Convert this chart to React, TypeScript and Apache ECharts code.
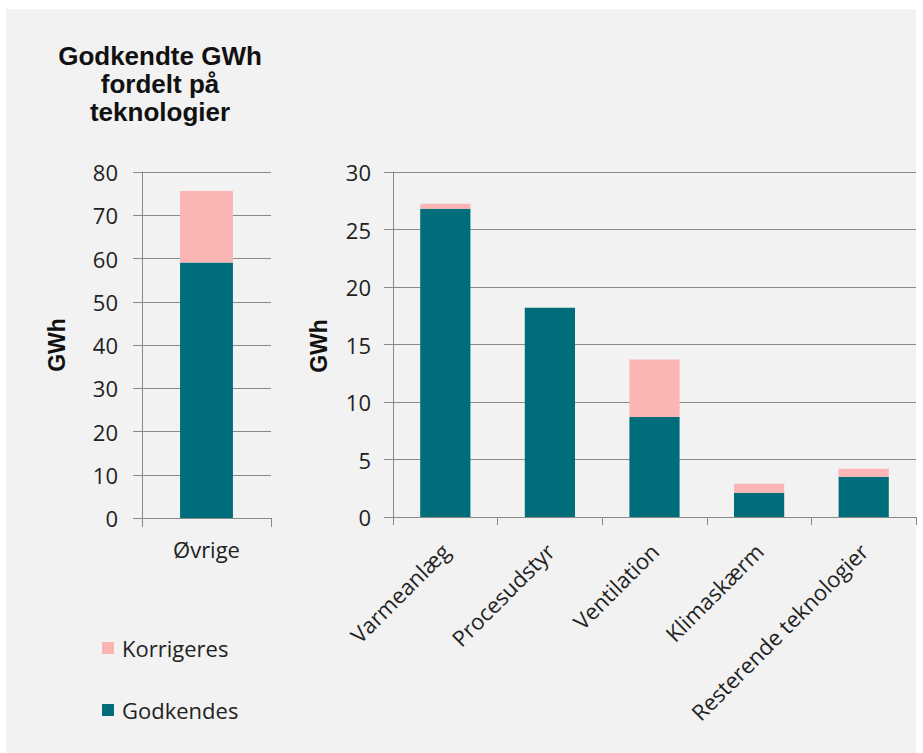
import React, { useEffect, useRef } from "react";
import * as echarts from "echarts";

const leftCategories = ["Øvrige"];
const leftGodkendes = [59.1];
const leftKorrigeres = [16.5];

const rightCategories = ["Varmeanlæg", "Procesudstyr", "Ventilation", "Klimaskærm", "Resterende teknologier"];
const rightGodkendes = [26.8, 18.2, 8.7, 2.1, 3.5];
const rightKorrigeres = [0.45, 0, 5.0, 0.8, 0.7];

const leftAxis = { min: 0, max: 80, interval: 10 };
const rightAxis = { min: 0, max: 30, interval: 5 };

const titleText = "Godkendte GWh\nfordelt på\nteknologier";
const axisName = "GWh";
const legendNames = ["Korrigeres", "Godkendes"];

const TEAL = "#006e7a";
const PINK = "#fbb5b5";
const LINE = "#8a8a8a";
const TEXT = "#222222";
const FONT = "'Open Sans', sans-serif";
const BOLD = "'Liberation Sans', Arial, sans-serif";

export default function App() {
  const ref = useRef<HTMLDivElement>(null);
  useEffect(() => {
    if (!ref.current) return;
    const chart = echarts.init(ref.current, undefined, { renderer: "svg" });
    const valueAxisCommon = (gridIndex: number, ax: any, margin: number) => ({
      type: "value",
      gridIndex,
      min: ax.min,
      max: ax.max,
      interval: ax.interval,
      axisLine: { show: true, lineStyle: { color: LINE, width: 1 } },
      axisTick: { show: true, length: 9, lineStyle: { color: LINE } },
      splitLine: { show: true, lineStyle: { color: LINE, width: 1 } },
      axisLabel: { color: TEXT, fontFamily: FONT, fontSize: 22, margin },
    });
    chart.setOption({
      animation: false,
      backgroundColor: "transparent",
      textStyle: { fontFamily: FONT },
      grid: [
        { left: 142, top: 172, width: 129, height: 346 },
        { left: 393, top: 172, width: 523, height: 345 },
      ],
      xAxis: [
        {
          type: "category",
          gridIndex: 0,
          data: leftCategories,
          axisLine: { show: true, lineStyle: { color: LINE } },
          axisTick: { show: true, length: 9, lineStyle: { color: LINE } },
          axisLabel: { color: TEXT, fontFamily: FONT, fontSize: 22, margin: 20 },
        },
        {
          type: "category",
          gridIndex: 1,
          data: rightCategories,
          axisLine: { show: true, lineStyle: { color: LINE } },
          axisTick: { show: true, length: 8, lineStyle: { color: LINE } },
          axisLabel: { color: TEXT, fontFamily: FONT, fontSize: 22, margin: 30, rotate: 45, interval: 0 },
        },
      ],
      yAxis: [valueAxisCommon(0, leftAxis, 24), valueAxisCommon(1, rightAxis, 22)],
      legend: {
        data: legendNames,
        orient: "vertical",
        left: 97,
        top: 632,
        itemWidth: 12,
        itemHeight: 12,
        itemGap: 40,
        icon: "rect",
        selectedMode: false,
        textStyle: { color: TEXT, fontFamily: FONT, fontSize: 22, padding: [0, 0, 0, 3] },
      },
      graphic: [
        {
          type: "text",
          x: 160,
          y: 42,
          style: {
            text: titleText,
            font: `bold 26px ${BOLD}`,
            fill: "#111",
            textAlign: "center",
            lineHeight: 28,
          },
        },
        {
          type: "text",
          x: 57,
          y: 345,
          rotation: Math.PI / 2,
          style: {
            text: axisName,
            font: `bold 23px ${BOLD}`,
            fill: "#111",
            textAlign: "center",
            textVerticalAlign: "middle",
          },
        },
        {
          type: "text",
          x: 319,
          y: 346,
          rotation: Math.PI / 2,
          style: {
            text: axisName,
            font: `bold 23px ${BOLD}`,
            fill: "#111",
            textAlign: "center",
            textVerticalAlign: "middle",
          },
        },
      ],
      series: [
        {
          name: "Godkendes",
          type: "bar",
          xAxisIndex: 0,
          yAxisIndex: 0,
          stack: "l",
          barWidth: "41%",
          itemStyle: { color: TEAL },
          data: leftGodkendes,
        },
        {
          name: "Korrigeres",
          type: "bar",
          xAxisIndex: 0,
          yAxisIndex: 0,
          stack: "l",
          barWidth: "41%",
          itemStyle: { color: PINK },
          data: leftKorrigeres,
        },
        {
          name: "Godkendes",
          type: "bar",
          xAxisIndex: 1,
          yAxisIndex: 1,
          stack: "r",
          barWidth: "48%",
          itemStyle: { color: TEAL },
          data: rightGodkendes,
        },
        {
          name: "Korrigeres",
          type: "bar",
          xAxisIndex: 1,
          yAxisIndex: 1,
          stack: "r",
          barWidth: "48%",
          itemStyle: { color: PINK },
          data: rightKorrigeres,
        },
      ],
    });
    return () => chart.dispose();
  }, []);
  return (
    <div style={{ position: "fixed", left: 0, top: 0, width: 923, height: 753, background: "#ffffff" }}>
      <div style={{ position: "absolute", left: 6, top: 9, width: 910, height: 744, background: "#f2f2f2" }} />
      <div ref={ref} style={{ position: "absolute", left: 0, top: 0, width: 923, height: 753 }} />
    </div>
  );
}
